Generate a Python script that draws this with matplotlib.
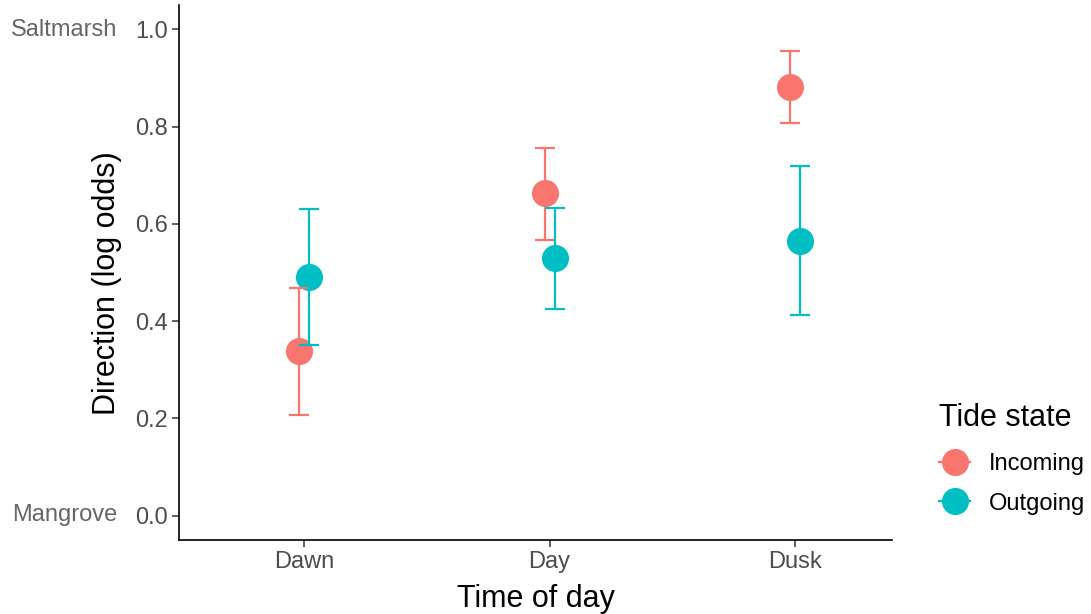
import matplotlib
matplotlib.use("Agg")
import matplotlib.pyplot as plt
from matplotlib.lines import Line2D
import numpy as np

plt.rcParams['font.family'] = ['Liberation Sans', 'DejaVu Sans']

times = ["Dawn", "Day", "Dusk"]
tides = ["Incoming", "Outgoing"]
colors = {"Incoming": "#F8766D", "Outgoing": "#00BFC4"}

est_incoming = [0.339, 0.663, 0.882]
low_incoming = [0.208, 0.566, 0.807]
high_incoming = [0.469, 0.757, 0.955]

est_outgoing = [0.490, 0.529, 0.565]
low_outgoing = [0.350, 0.424, 0.413]
high_outgoing = [0.630, 0.632, 0.718]

data = {
    "Incoming": (est_incoming, low_incoming, high_incoming),
    "Outgoing": (est_outgoing, low_outgoing, high_outgoing),
}
dodge = {"Incoming": -0.02, "Outgoing": 0.02}

W, H = 1091, 614
fig = plt.figure(figsize=(W / 100, H / 100), dpi=100)
ax = fig.add_axes([179 / W, 1 - 540 / H, (892 - 179) / W, (540 - 5) / H])

x = np.arange(len(times))
for tide in tides:
    est, lo, hi = data[tide]
    est = np.array(est); lo = np.array(lo); hi = np.array(hi)
    xx = x + dodge[tide]
    ax.plot(xx, est, 'o', ms=19.5, color=colors[tide], mec='none', zorder=2)
    ax.errorbar(xx, est, yerr=[est - lo, hi - est], fmt='none', ecolor=colors[tide],
                elinewidth=1.6, capsize=7, capthick=1.6, zorder=3)

ax.set_xlim(-0.51, 2.395)
ax.set_ylim(-0.05, 1.05)
ax.set_xticks(x)
ax.set_xticklabels(times)
ax.set_yticks([0.0, 0.2, 0.4, 0.6, 0.8, 1.0])
ax.set_yticklabels(["0.0", "0.2", "0.4", "0.6", "0.8", "1.0"])
ax.tick_params(axis='both', labelsize=17, colors='#333333', labelcolor='#4D4D4D',
               length=5, width=1.1)
ax.tick_params(axis='x', pad=3)
ax.tick_params(axis='y', pad=3)
for s in ['top', 'right']:
    ax.spines[s].set_visible(False)
for s in ['left', 'bottom']:
    ax.spines[s].set_linewidth(1.2)
    ax.spines[s].set_color('black')

ax.set_xlabel("Time of day", fontsize=22, labelpad=8)
ax.set_ylabel("Direction (log odds)", fontsize=22, va='center')
ax.yaxis.set_label_coords(-0.101, 0.48)

# End labels
fig.text(117 / W, 1 - 29.5 / H, "Saltmarsh", fontsize=17, color='#666666',
         ha='right', va='center')
fig.text(117 / W, 1 - 515 / H, "Mangrove", fontsize=17, color='#666666',
         ha='right', va='center')

handles = [Line2D([0], [0], marker='o', ms=19.5, color=colors[t], mec='none',
                  lw=1.6) for t in tides]
leg = fig.legend(handles, tides, title="Tide state", loc='upper left',
                 bbox_to_anchor=(930 / W, 1 - 394 / H), frameon=False,
                 fontsize=17, title_fontsize=22, handlelength=1.3,
                 handletextpad=0.8, labelspacing=0.75, borderaxespad=0)
leg._legend_box.align = "left"
leg._legend_box.sep = 14

fig.savefig("out.png", dpi=100, facecolor='white')
